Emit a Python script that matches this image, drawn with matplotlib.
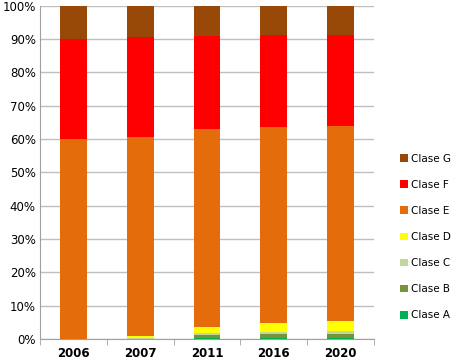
import matplotlib
matplotlib.use("Agg")
import matplotlib.pyplot as plt
import numpy as np

years = ["2006", "2007", "2011", "2016", "2020"]
clase_a = [0.0, 0.0, 0.2, 0.2, 0.3]
clase_b = [0.0, 0.0, 0.9, 1.2, 1.3]
clase_c = [0.0, 0.2, 0.8, 0.8, 0.9]
clase_d = [0.1, 0.8, 1.8, 2.5, 2.9]
clase_e = [59.9, 59.6, 59.3, 58.8, 58.6]
clase_f = [30.0, 30.0, 28.0, 27.6, 27.2]
clase_g = [10.0, 9.4, 9.0, 8.9, 8.8]

series = [("Clase A", clase_a, "#00B050"),
          ("Clase B", clase_b, "#77933C"),
          ("Clase C", clase_c, "#C3D69B"),
          ("Clase D", clase_d, "#FFFF00"),
          ("Clase E", clase_e, "#E46C0A"),
          ("Clase F", clase_f, "#FF0000"),
          ("Clase G", clase_g, "#984807")]

fig = plt.figure(figsize=(4.51, 3.59), dpi=100)
ax = fig.add_axes([40/451, 20/359, 334/451, 333.3/359])

x = np.arange(len(years))
bottom = np.zeros(len(years))
handles = []
for name, vals, col in series:
    v = np.array(vals)
    h = ax.bar(x, v, 0.4, bottom=bottom, color=col, label=name, zorder=3)
    handles.append(h)
    bottom += v

ax.set_xlim(-0.5, len(years) - 0.5)
ax.set_ylim(0, 100)
ax.set_yticks(np.arange(0, 101, 10))
ax.set_yticklabels([f"{v}%" for v in range(0, 101, 10)], fontsize=8.5)
ax.set_xticks(x)
ax.set_xticklabels(years, fontsize=8.5, fontweight="bold")
ax.set_xticks(np.arange(-0.5, len(years), 1), minor=True)
ax.tick_params(axis="x", which="major", length=0, pad=6)
ax.tick_params(axis="x", which="minor", length=4, color="#A0A0A0", direction="out")
ax.tick_params(axis="y", length=0, pad=3)
ax.grid(axis="y", color="#BFBFBF", linewidth=1, zorder=0)
for s in ["top", "right"]:
    ax.spines[s].set_visible(False)
for s in ["left", "bottom"]:
    ax.spines[s].set_color("#A0A0A0")

fig.legend(handles[::-1], [s[0] for s in series][::-1],
           loc="center left", bbox_to_anchor=(395/451, 1 - 237/359),
           frameon=False, fontsize=7.5, handlelength=0.75, handleheight=0.75,
           handletextpad=0.3, labelspacing=1.55, borderpad=0)

fig.savefig("out.png", dpi=100)
